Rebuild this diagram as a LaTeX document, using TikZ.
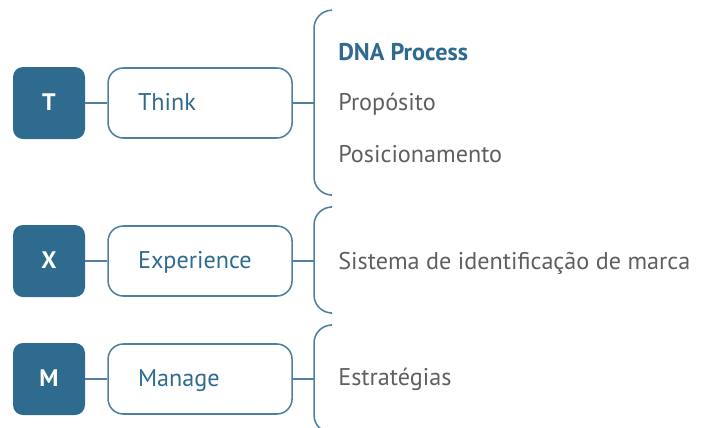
\documentclass[tikz,border=0pt]{standalone}
\usepackage{fontspec}
\setmainfont{PT Sans}
\usetikzlibrary{positioning}
\definecolor{txblue}{HTML}{2F6B8F}
\definecolor{txline}{HTML}{50809F}
\definecolor{txgray}{HTML}{5E5F61}
\tikzset{
	letter/.style={rectangle, rounded corners=0.25cm, minimum width=1.8cm, minimum height=1.8cm, fill=txblue, text=white, font=\fontsize{17}{20}\selectfont\bfseries, text height=0.36cm, text depth=0pt},
	phase/.style={draw=txline, line width=1.1pt, rectangle, rounded corners=0.38cm, minimum height=1.75cm, inner xsep=0.75cm, text width=3.1cm, align=left, text=txblue, font=\fontsize{17.2}{20}\selectfont, text height=0.36cm, text depth=0pt},
	% items right of the brackets
	item/.style={anchor=base west, inner sep=0pt, text=txgray, font=\fontsize{17.2}{20}\selectfont},
	bracket/.style={draw=txline, line width=1.1pt, rounded corners=0.45cm},
}

\begin{document}
\begin{tikzpicture}
		\clip (0,0) rectangle (17.525,-10.675);
		
		\node (t) [letter] at (1.225,-2.575) {T};
		\node (x) [letter] at (1.225,-6.525) {X};
		\node (m) [letter] at (1.225,-9.475) {M};
		
		\node (think) [phase, right=0.55cm of t] {Think};
		\node (experience) [phase, right=0.55cm of x] {Experience};
		\node (manage) [phase, right=0.55cm of m] {Manage};
		
		\coordinate [right=0.53cm of think] (b1);
		\coordinate [right=0.53cm of experience] (b2);
		\coordinate [right=0.53cm of manage] (b3);
		
		\node (dna) [item, text=txblue, font=\fontsize{17.2}{20}\selectfont\bfseries] at ([shift={(0.6,1.075)}]b1) {DNA Process};
		\node (proposito) [item] at ([shift={(0.6,-0.175)}]b1) {Propósito};
		\node (posicionamento) [item] at ([shift={(0.6,-1.475)}]b1) {Posicionamento};
		\node (sistema) [item] at ([shift={(0.6,-0.2)}]b2) {Sistema de identificação de marca};
		\node (estrategias) [item] at ([shift={(0.6,-0.16)}]b3) {Estratégias};
		
		\begin{scope}[draw=txline, line width=1.1pt]
			\draw (t) -- (think);
			\draw (x) -- (experience);
			\draw (m) -- (manage);
			\draw (think) -- (b1);
			\draw (experience) -- (b2);
			\draw (manage) -- (b3);
		\end{scope}
		
		\draw [bracket] (b1) ++(0.42,2.32) -- ++(-0.42,0) -- ++(0,-4.62) -- ++(0.42,0);
		\draw [bracket] (b2) ++(0.42,1.35) -- ++(-0.42,0) -- ++(0,-2.65) -- ++(0.42,0);
		\draw [bracket] (b3) ++(0.42,1.35) -- ++(-0.42,0) -- ++(0,-2.7) -- ++(0.42,0);
	\end{tikzpicture}
\end{document}
